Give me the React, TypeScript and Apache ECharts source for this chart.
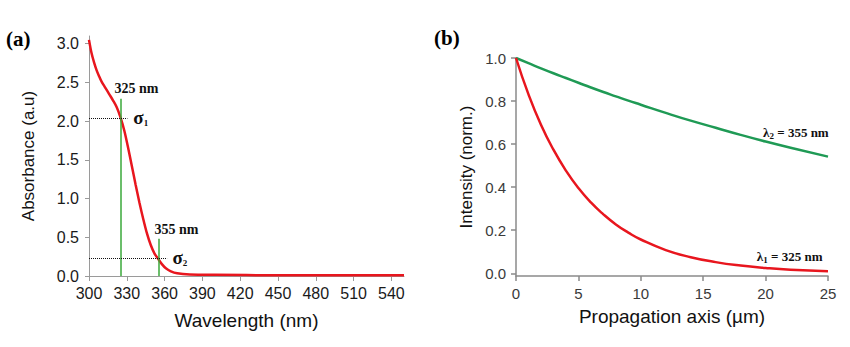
import React, { useEffect, useRef } from "react";
import * as echarts from "echarts";

// ---- Panel (a): absorbance spectrum ----
const wavelengths = [300, 302, 304, 306, 308, 310, 313, 316, 319, 322, 325, 328, 331, 334, 337, 340, 343, 346, 349, 352, 355, 358, 361, 365, 370, 380, 400, 450, 500, 550];
const absorbance = [3.05, 2.88, 2.76, 2.66, 2.58, 2.51, 2.43, 2.35, 2.27, 2.18, 2.05, 1.88, 1.66, 1.42, 1.18, 0.95, 0.74, 0.55, 0.4, 0.29, 0.22, 0.15, 0.1, 0.06, 0.035, 0.02, 0.015, 0.01, 0.01, 0.01];
const wavelengthTicks = [300, 330, 360, 390, 420, 450, 480, 510, 540];
const absorbanceTicks = [0, 0.5, 1.0, 1.5, 2.0, 2.5, 3.0];
const markerWavelengths = [325, 355];
const markerHeights = [2.29, 0.48];
const sigmaLevels = [2.04, 0.225];
const dottedEnds = [330.5, 362];
const nmLabelPos = [[320.2, 2.42], [351.9, 0.6]];
const sigmaLabelPos = [[335.2, 2.05], [366.2, 0.24]];

// ---- Panel (b): intensity vs propagation ----
const propagation = [0, 1, 2, 3, 4, 5, 6, 7, 8, 9, 10, 12, 14, 16, 18, 20, 22, 25];
const intensity325 = [1.0, 0.831, 0.69, 0.574, 0.477, 0.396, 0.329, 0.274, 0.227, 0.189, 0.157, 0.108, 0.075, 0.052, 0.036, 0.025, 0.017, 0.01];
const intensity355 = [1.0, 0.976, 0.952, 0.929, 0.907, 0.885, 0.863, 0.842, 0.822, 0.802, 0.783, 0.745, 0.709, 0.676, 0.643, 0.612, 0.583, 0.542];
const intensityTicks = [0, 0.2, 0.4, 0.6, 0.8, 1.0];
const lambdaLabelPos = [[19.3, 0.08], [19.8, 0.652]];

const RED = "#e8161e";
const GREEN_A = "#3aa83a";
const GREEN_B = "#1f9a55";
const SANS = "'Liberation Sans', Arial, sans-serif";
const SERIF = "'Liberation Serif', 'Times New Roman', serif";

export default function App() {
  const ref = useRef<HTMLDivElement>(null);
  useEffect(() => {
    if (!ref.current) return;
    const chart = echarts.init(ref.current, undefined, { renderer: "svg" });
    const zip = (xs: number[], ys: number[]) => xs.map((x, i) => [x, ys[i]]);
    const option: any = {
      animation: false,
      backgroundColor: "#fff",
      grid: [
        { left: 89, right: 446, top: 36, bottom: 71 },
        { left: 516, right: 22, top: 58, bottom: 71 },
      ],
      xAxis: [
        {
          gridIndex: 0, type: "value", min: 300, max: 550,
          name: "Wavelength (nm)", nameLocation: "middle", nameGap: 35,
          nameTextStyle: { fontFamily: SANS, fontSize: 19, color: "#111" },
          axisLine: { onZero: false, lineStyle: { color: "#9a9a9a", width: 1 } },
          axisTick: { show: true, length: 5, customValues: wavelengthTicks, lineStyle: { color: "#9a9a9a" } },
          axisLabel: { customValues: wavelengthTicks, fontFamily: SANS, fontSize: 16, color: "#1a1a1a", margin: 9 },
          splitLine: { show: false },
        },
        {
          gridIndex: 1, type: "value", min: 0, max: 25, interval: 5,
          name: "Propagation axis (µm)", nameLocation: "middle", nameGap: 31,
          nameTextStyle: { fontFamily: SANS, fontSize: 19, color: "#111" },
          axisLine: { onZero: false, lineStyle: { color: "#8a8a8a", width: 1.5 } },
          axisTick: { show: true, length: 5, lineStyle: { color: "#8a8a8a", width: 1.5 } },
          axisLabel: { fontFamily: SANS, fontSize: 15, color: "#3a3a3a", margin: 10 },
          splitLine: { show: false },
        },
      ],
      yAxis: [
        {
          gridIndex: 0, type: "value", min: 0, max: 3.1,
          name: "Absorbance (a.u)", nameLocation: "middle", nameGap: 52,
          nameTextStyle: { fontFamily: SANS, fontSize: 17, color: "#111" },
          axisLine: { show: true, onZero: false, lineStyle: { color: "#9a9a9a", width: 1 } },
          axisTick: { show: true, length: 4, customValues: absorbanceTicks, lineStyle: { color: "#9a9a9a" } },
          axisLabel: {
            customValues: absorbanceTicks, fontFamily: SANS, fontSize: 16, color: "#1a1a1a", margin: 10,
            formatter: (v: number) => v.toFixed(1),
          },
          splitLine: { show: false },
        },
        {
          gridIndex: 1, type: "value", min: -0.0125, max: 1.0,
          name: "Intensity (norm.)", nameLocation: "middle", nameGap: 41,
          nameTextStyle: { fontFamily: SANS, fontSize: 17, color: "#111" },
          axisLine: { show: true, onZero: false, lineStyle: { color: "#8a8a8a", width: 1.5 } },
          axisTick: { show: true, length: 5, customValues: intensityTicks, lineStyle: { color: "#8a8a8a", width: 1.5 } },
          axisLabel: {
            customValues: intensityTicks, fontFamily: SANS, fontSize: 15, color: "#3a3a3a", margin: 10,
            formatter: (v: number) => v.toFixed(1),
          },
          splitLine: { show: false },
        },
      ],
      series: [
        {
          type: "line", xAxisIndex: 0, yAxisIndex: 0, z: 3,
          data: zip(wavelengths, absorbance), smooth: 0.3, showSymbol: false,
          lineStyle: { color: RED, width: 2.5 }, silent: true,
          markLine: {
            silent: true, symbol: ["none", "none"], label: { show: false }, animation: false,
            data: [
              ...markerWavelengths.map((w, i) => [
                { coord: [w, 0], lineStyle: { color: GREEN_A, width: 1.5, type: "solid" } },
                { coord: [w, markerHeights[i]] },
              ]),
              ...sigmaLevels.map((s, i) => [
                { coord: [300, s], lineStyle: { color: "#111", width: 1, type: "dotted" } },
                { coord: [dottedEnds[i], s] },
              ]),
            ],
          },
        },
        {
          type: "line", xAxisIndex: 1, yAxisIndex: 1, z: 3,
          data: zip(propagation, intensity355), smooth: true, showSymbol: false,
          lineStyle: { color: GREEN_B, width: 2.5 }, silent: true,
        },
        {
          type: "line", xAxisIndex: 1, yAxisIndex: 1, z: 3,
          data: zip(propagation, intensity325), smooth: true, showSymbol: false,
          lineStyle: { color: RED, width: 2.5 }, silent: true,
        },
      ],
    };
    chart.setOption(option);

    const ink = "#111";
    const boldSerif = (size: number) => ({ fontFamily: SERIF, fontWeight: "bold", fontSize: size, fill: ink });
    const textEl = (p: number[], rich: any, text: string) => ({
      type: "text", x: p[0], y: p[1], z: 10, silent: true,
      style: { legacy: false, text, align: "left", verticalAlign: "middle", rich },
    });
    const richDefs = {
      t: { ...boldSerif(14), lineHeight: 18 },
      s: { ...boldSerif(19), lineHeight: 20 },
      l: { ...boldSerif(13), lineHeight: 16 },
      sub: { ...boldSerif(9), lineHeight: 9, verticalAlign: "bottom" },
    };
    const graphics: any[] = [
      { type: "text", left: 6, top: 28, style: { text: "(a)", font: `bold 21px ${SERIF}`, fill: "#000" } },
      { type: "text", left: 434, top: 27, style: { text: "(b)", font: `bold 21px ${SERIF}`, fill: "#000" } },
    ];
    nmLabelPos.forEach((p, i) => {
      const px = chart.convertToPixel({ gridIndex: 0 }, p) as number[];
      graphics.push(textEl(px, richDefs, `{t|${markerWavelengths[i]} nm}`));
    });
    sigmaLabelPos.forEach((p, i) => {
      const px = chart.convertToPixel({ gridIndex: 0 }, p) as number[];
      graphics.push(textEl(px, richDefs, `{s|σ}{sub|${i + 1}}`));
    });
    lambdaLabelPos.forEach((p, i) => {
      const px = chart.convertToPixel({ gridIndex: 1 }, p) as number[];
      graphics.push(textEl(px, richDefs, `{l|λ}{sub|${i + 1}}{l| = ${markerWavelengths[i]} nm}`));
    });
    chart.setOption({ graphic: graphics });
    return () => chart.dispose();
  }, []);
  return (
    <div
      ref={ref}
      style={{ position: "fixed", left: 0, top: 0, width: 850, height: 347, background: "#fff" }}
    />
  );
}
